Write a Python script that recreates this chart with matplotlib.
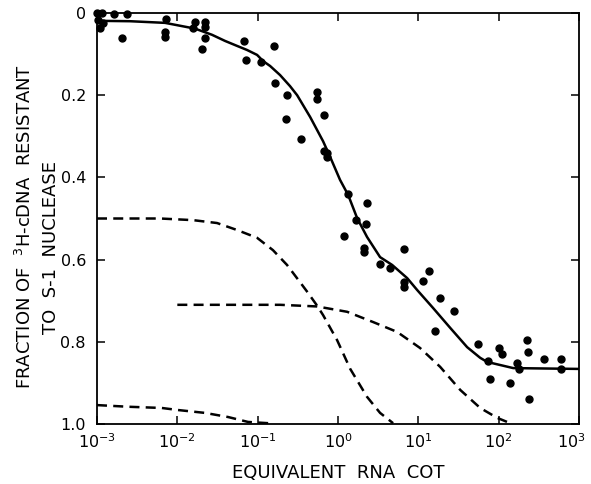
import numpy as np
import matplotlib
matplotlib.use("Agg")
import matplotlib.pyplot as plt
import matplotlib.transforms as mtransforms
from matplotlib.ticker import FixedLocator, FixedFormatter

plt.rcParams['font.family'] = ['DejaVu Sans']

# ---- data ----
pts_x = [1.00e-3, 1.03e-3, 1.09e-3, 1.19e-3, 1.15e-3, 1.63e-3, 2.36e-3, 2.05e-3,
         7.2e-3, 7.0e-3, 7.0e-3, 0.0166, 0.0158, 0.022, 0.022, 0.022, 0.0203,
         0.0678, 0.0713, 0.110, 0.160, 0.165, 0.232, 0.226, 0.347,
         0.549, 0.549, 0.671, 0.671, 0.732, 0.732,
         1.34, 2.30, 1.68, 2.24, 1.19, 2.11, 2.11, 6.65, 3.34, 4.45, 6.65, 6.65,
         13.6, 11.5, 18.7, 27.9, 16.2, 55.6, 101, 111, 74, 78.4, 139, 170, 180,
         226, 233, 240, 369, 600, 590]
pts_y = [0.000, 0.017, 0.036, 0.024, 0.000, 0.002, 0.002, 0.061,
         0.015, 0.046, 0.058, 0.022, 0.036, 0.022, 0.034, 0.061, 0.088,
         0.068, 0.114, 0.119, 0.080, 0.170, 0.200, 0.258, 0.307,
         0.192, 0.209, 0.248, 0.336, 0.341, 0.350,
         0.440, 0.462, 0.504, 0.513, 0.543, 0.572, 0.582, 0.574, 0.611, 0.620, 0.655, 0.667,
         0.628, 0.652, 0.693, 0.725, 0.774, 0.805, 0.815, 0.830, 0.847, 0.891, 0.900, 0.852, 0.866,
         0.796, 0.825, 0.939, 0.842, 0.842, 0.866]

solid_x = [1e-3, 2.58e-3, 7.03e-3, 0.0166, 0.0270, 0.0393, 0.0553, 0.0738, 0.0984,
           0.117, 0.143, 0.190, 0.253, 0.310, 0.450, 0.652, 0.798, 1.06, 1.34, 1.73,
           2.30, 3.34, 4.72, 7.26, 9.67, 15.3, 24.9, 40.5, 58.9, 71.9, 152, 1000]
solid_y = [0.019, 0.020, 0.024, 0.038, 0.053, 0.068, 0.080, 0.090, 0.102,
           0.117, 0.129, 0.151, 0.178, 0.200, 0.253, 0.312, 0.350, 0.406, 0.443, 0.499,
           0.545, 0.594, 0.613, 0.645, 0.674, 0.718, 0.766, 0.813, 0.839, 0.849, 0.864, 0.866]

dashA_x = [1e-3, 6.1e-3, 0.0157, 0.0312, 0.0553, 0.0984, 0.155, 0.232, 0.337,
           0.42, 0.549, 0.652, 0.975, 1.42, 2.30, 3.34, 4.85]
dashA_y = [0.500, 0.500, 0.504, 0.511, 0.528, 0.547, 0.577, 0.613, 0.655,
           0.680, 0.712, 0.735, 0.796, 0.866, 0.934, 0.973, 0.998]

dashB_x = [0.01, 0.19, 0.549, 1.30, 2.74, 5.45, 10.5, 18.7, 33.2, 58.9, 95.8, 139]
dashB_y = [0.710, 0.710, 0.714, 0.727, 0.752, 0.776, 0.815, 0.861, 0.917, 0.961, 0.985, 0.998]

dashC_x = [1e-3, 2.43e-3, 6.4e-3, 0.0102, 0.0221, 0.0428, 0.0759, 0.135]
dashC_y = [0.954, 0.958, 0.961, 0.966, 0.973, 0.983, 0.995, 0.998]

xticks = [1e-3, 1e-2, 1e-1, 1e0, 1e1, 1e2, 1e3]
xtick_labels = [r'$10^{-3}$', r'$10^{-2}$', r'$10^{-1}$', r'$10^{0}$',
                r'$10^{1}$', r'$10^{2}$', r'$10^{3}$']
yticks = [0, 0.2, 0.4, 0.6, 0.8, 1.0]
ytick_labels = ['0', '0.2', '0.4', '0.6', '0.8', '1.0']

# ---- figure ----
fig = plt.figure(figsize=(5.91, 4.84), dpi=100)
ax = fig.add_axes([97/591, 60/484, 482/591, 411/484])

ax.set_xscale('log')
ax.set_xlim(1e-3, 1e3)
ax.set_ylim(1.0, 0.0)

ax.plot(solid_x, solid_y, color='black', lw=1.8, solid_capstyle='round')
for dx, dy in [(dashA_x, dashA_y), (dashB_x, dashB_y), (dashC_x, dashC_y)]:
    ax.plot(dx, dy, color='black', lw=1.8, dashes=(4, 2.5))
ax.plot(pts_x, pts_y, 'o', color='black', ms=5, clip_on=False, zorder=5)

ax.xaxis.set_major_locator(FixedLocator(xticks))
ax.xaxis.set_major_formatter(FixedFormatter(xtick_labels))
ax.xaxis.set_minor_locator(FixedLocator([]))
ax.yaxis.set_major_locator(FixedLocator(yticks))
ax.yaxis.set_major_formatter(FixedFormatter(ytick_labels))

ax.tick_params(axis='both', which='major', direction='in', length=6, width=1.1,
               top=True, right=True, labelsize=11.5)
ax.tick_params(axis='x', pad=6)
ax.tick_params(axis='y', pad=8)
for s in ax.spines.values():
    s.set_linewidth(1.3)

ax.set_xlabel('EQUIVALENT  RNA  COT', fontsize=13, labelpad=9)

fig.text(25/591, 1 - 226/484, r'FRACTION OF  $^{3}$H-cDNA  RESISTANT', rotation=90,
         ha='center', va='center', fontsize=13)
fig.text(51/591, 1 - 248/484, 'TO  S-1  NUCLEASE', rotation=90,
         ha='center', va='center', fontsize=13)

# keep the last x tick label inside the figure, as in the reference
last = ax.get_xticklabels()[-1]
last.set_transform(last.get_transform() +
                   mtransforms.ScaledTranslation(-8/100, 0, fig.dpi_scale_trans))

fig.savefig('out.png', dpi=100)
